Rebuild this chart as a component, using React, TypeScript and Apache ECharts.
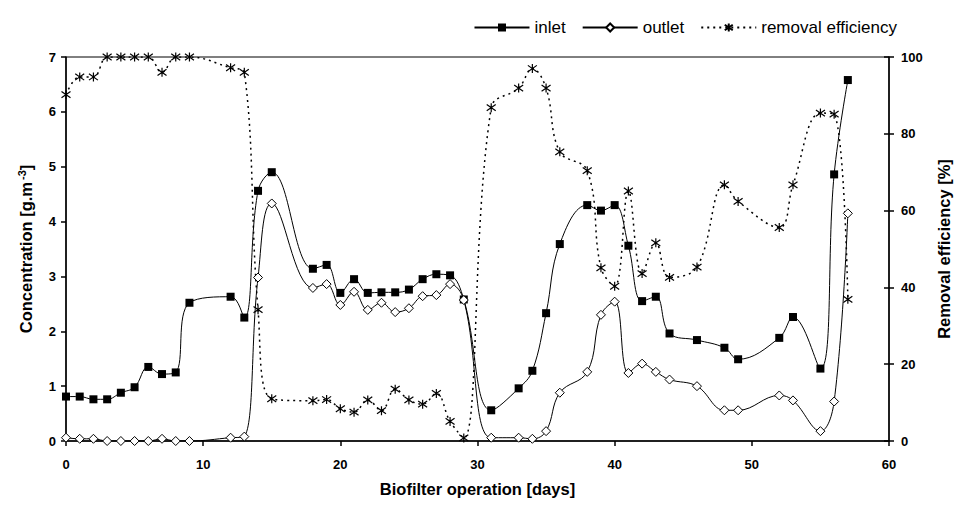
import React, { useEffect, useRef } from "react";
import * as echarts from "echarts";

const days = [0, 1, 2, 3, 4, 5, 6, 7, 8, 9, 12, 13, 14, 15, 18, 19, 20, 21, 22, 23, 24, 25, 26, 27, 28, 29, 31, 33, 34, 35, 36, 38, 39, 40, 41, 42, 43, 44, 46, 48, 49, 52, 53, 55, 56, 57];
const inlet = [0.81, 0.81, 0.76, 0.76, 0.88, 0.98, 1.35, 1.22, 1.25, 2.52, 2.63, 2.25, 4.56, 4.9, 3.14, 3.21, 2.7, 2.95, 2.7, 2.71, 2.71, 2.76, 2.95, 3.04, 3.02, 2.58, 0.56, 0.96, 1.28, 2.33, 3.59, 4.3, 4.2, 4.3, 3.56, 2.55, 2.63, 1.96, 1.84, 1.7, 1.49, 1.88, 2.26, 1.32, 4.86, 6.58];
const outlet = [0.06, 0.04, 0.04, 0, 0, 0, 0, 0.04, 0, 0, 0.06, 0.08, 2.98, 4.33, 2.79, 2.86, 2.48, 2.72, 2.39, 2.52, 2.35, 2.42, 2.64, 2.66, 2.86, 2.57, 0.06, 0.06, 0.04, 0.18, 0.88, 1.26, 2.3, 2.54, 1.24, 1.41, 1.26, 1.12, 1.0, 0.56, 0.56, 0.83, 0.74, 0.18, 0.72, 4.15];
const removal = [90.2, 94.8, 94.8, 100, 100, 100, 100, 96, 100, 100, 97.2, 96, 34.2, 11.0, 10.5, 10.8, 8.4, 7.5, 10.7, 7.9, 13.5, 10.7, 9.6, 12.4, 5.1, 0.8, 86.8, 91.9, 97, 91.9, 75.3, 70.4, 45.1, 40.3, 65.1, 43.6, 51.6, 42.6, 45.3, 66.7, 62.4, 55.6, 66.7, 85.4, 85.1, 36.9];

const seriesNames = ["inlet", "outlet", "removal efficiency"];
const xAxisTitle = "Biofilter operation [days]";
const yLeftTitle = "Concentration [g.m{sup|-3}]";
const yRightTitle = "Removal efficiency [%]";

const FONT = "'Liberation Sans', Arial, sans-serif";
const STAR = "path://M5,0L5,10M1,1.5L9,8.5M1,8.5L9,1.5";

export default function App() {
  const ref = useRef<HTMLDivElement>(null);
  useEffect(() => {
    if (!ref.current) return;
    const chart = echarts.init(ref.current, null, { renderer: "svg" });
    const pair = (arr: number[]) => days.map((d, i) => [d, arr[i]]);
    const axisLabel = { color: "#000", fontFamily: FONT, fontWeight: "bold", fontSize: 13 };
    const axisLine = { show: true, lineStyle: { color: "#000", width: 1.5 } };
    const tick = { show: true, length: 5, lineStyle: { color: "#000", width: 1.5 } };
    const titleStyle = { color: "#000", fontFamily: FONT, fontWeight: "bold", fontSize: 16.5 };
    chart.setOption({
      animation: false,
      backgroundColor: "#fff",
      grid: {
        left: 55,
        right: 54,
        top: 49,
        bottom: 50,
        show: true,
        borderColor: "#000",
        borderWidth: 1,
        backgroundColor: "transparent",
      },
      legend: {
        right: 58,
        top: 6,
        itemWidth: 55,
        itemHeight: 10,
        itemGap: 16,
        textStyle: { color: "#000", fontFamily: FONT, fontSize: 17 },
        data: seriesNames,
      },
      xAxis: {
        type: "value",
        min: 0,
        max: 60,
        interval: 10,
        axisLine,
        axisTick: tick,
        axisLabel: { ...axisLabel, margin: 17 },
        splitLine: { show: false },
        name: xAxisTitle,
        nameLocation: "middle",
        nameGap: 39,
        nameTextStyle: titleStyle,
      },
      yAxis: [
        {
          type: "value",
          min: 0,
          max: 7,
          interval: 1,
          position: "left",
          axisLine,
          axisTick: tick,
          axisLabel: { ...axisLabel, margin: 10 },
          splitLine: { show: false },
          name: yLeftTitle,
          nameLocation: "middle",
          nameGap: 31,
          nameRotate: 90,
          nameTextStyle: {
            ...titleStyle,
            rich: {
              sup: {
                color: "#000",
                fontFamily: FONT,
                fontWeight: "bold",
                fontSize: 11,
                verticalAlign: "top",
                padding: [0, 0, 8, 2],
              },
            },
          },
        },
        {
          type: "value",
          min: 0,
          max: 100,
          interval: 20,
          position: "right",
          axisLine,
          axisTick: tick,
          axisLabel: { ...axisLabel, margin: 12 },
          splitLine: { show: false },
          name: yRightTitle,
          nameLocation: "middle",
          nameGap: 46,
          nameRotate: 90,
          nameTextStyle: titleStyle,
        },
        {
          type: "value",
          min: 0,
          max: 100,
          interval: 20,
          position: "right",
          axisLine: { show: false },
          axisTick: { show: true, inside: true, length: 5, lineStyle: { color: "#000", width: 1.5 } },
          axisLabel: { show: false },
          splitLine: { show: false },
        },
      ],
      series: [
        {
          name: seriesNames[0],
          type: "line",
          yAxisIndex: 0,
          smooth: 0.4,
          data: pair(inlet),
          symbol: "rect",
          symbolSize: 8,
          lineStyle: { color: "#000", width: 1 },
          itemStyle: { color: "#000", borderColor: "#000", borderWidth: 0 },
          z: 3,
        },
        {
          name: seriesNames[1],
          type: "line",
          yAxisIndex: 0,
          smooth: 0.4,
          data: pair(outlet),
          symbol: "diamond",
          symbolSize: 9,
          lineStyle: { color: "#000", width: 1 },
          itemStyle: { color: "#fff", borderColor: "#000", borderWidth: 1 },
          z: 4,
        },
        {
          name: seriesNames[2],
          type: "line",
          yAxisIndex: 1,
          smooth: 0.4,
          data: pair(removal),
          symbol: STAR,
          symbolSize: 9,
          lineStyle: { color: "#000", width: 1.5, type: [2, 4] },
          itemStyle: { color: "#000", borderColor: "#000", borderWidth: 1.2 },
          z: 2,
        },
      ],
    });
    return () => chart.dispose();
  }, []);
  return <div ref={ref} style={{ width: 952, height: 494 }} />;
}
